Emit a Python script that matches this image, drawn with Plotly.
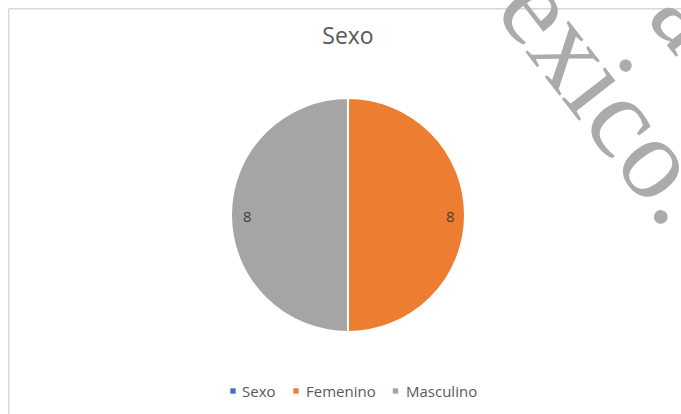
import plotly.graph_objects as go
import math

# Data
labels = ["Sexo", "Femenino", "Masculino"]
values = [0, 8, 8]
colors = ["#4472C4", "#ED7D31", "#A5A5A5"]
title_text = "Sexo"
watermark = "exico."
watermark_prev = "a"

W, H = 681, 414
cx, cy, r = 348, 215, 117

def px(x):
    return x / W

def py(y):
    return 1 - y / H

fig = go.Figure()
fig.add_trace(go.Pie(
    labels=labels, values=values, sort=False, direction="clockwise", rotation=0,
    marker=dict(colors=colors, line=dict(color="white", width=2)),
    textinfo="none",
    domain=dict(x=[px(cx - r), px(cx + r)], y=[py(cy + r), py(cy - r)]),
    showlegend=False, hoverinfo="label+value",
))

annotations = []
# data labels placed along each slice's mid-angle (clockwise from 12 o'clock)
total = sum(values)
acc = 0
for lab, v in zip(labels, values):
    if v > 0:
        mid = (acc + v / 2) / total * 2 * math.pi
        lx = cx + 0.87 * r * math.sin(mid)
        ly = cy - 0.87 * r * math.cos(mid)
        annotations.append(dict(text=str(v), xref="paper", yref="paper", x=px(lx + 1), y=py(ly + 1),
                                xanchor="center", yanchor="middle", showarrow=False,
                                font=dict(family="Open Sans", size=15, color="#404040")))
    acc += v

# legend (Excel style): small squares + labels
leg_sq_x = [233, 296, 395.5]
leg_tx_x = [239.5, 303.5, 404]
leg_y = 391
shapes = []
for lab, col, sx, tx in zip(labels, colors, leg_sq_x, leg_tx_x):
    shapes.append(dict(type="rect", xref="paper", yref="paper",
                       x0=px(sx - 2.7), x1=px(sx + 2.7), y0=py(leg_y + 2.7), y1=py(leg_y - 2.7),
                       fillcolor=col, line=dict(width=0)))
    annotations.append(dict(text=lab, xref="paper", yref="paper", x=px(tx), y=py(leg_y),
                            xanchor="left", yanchor="middle", showarrow=False,
                            font=dict(family="Open Sans", size=15, color="#595959")))

# chart border (top and left visible)
shapes += [
    dict(type="line", xref="paper", yref="paper", x0=px(8.75), x1=1, y0=py(8.75), y1=py(8.75),
         line=dict(color="#D9D9D9", width=1.5)),
    dict(type="line", xref="paper", yref="paper", x0=px(8.75), x1=px(8.75), y0=0, y1=py(8.75),
         line=dict(color="#D9D9D9", width=1.5)),
]

annotations.append(dict(text=watermark, xref="paper", yref="paper", x=px(610), y=py(97),
                        xanchor="center", yanchor="middle", showarrow=False, textangle=52,
                        font=dict(family="Liberation Serif", size=116, color="#ABABAB")))
annotations.append(dict(text=watermark_prev, xref="paper", yref="paper", x=px(692), y=py(14),
                        xanchor="center", yanchor="middle", showarrow=False, textangle=52,
                        font=dict(family="Liberation Serif", size=116, color="#ABABAB")))

fig.update_layout(
    width=W, height=H,
    margin=dict(l=0, r=0, t=0, b=0),
    paper_bgcolor="white", plot_bgcolor="white",
    title=dict(text=title_text, x=px(cx), xanchor="center", y=py(36), yanchor="middle",
               font=dict(family="Open Sans", size=23, color="#595959")),
    showlegend=False,
    shapes=shapes,
    annotations=annotations,
)

fig.write_html("out.html", config={"displayModeBar": False},
               post_script="document.body.style.margin='0';document.body.style.overflow='hidden';")
